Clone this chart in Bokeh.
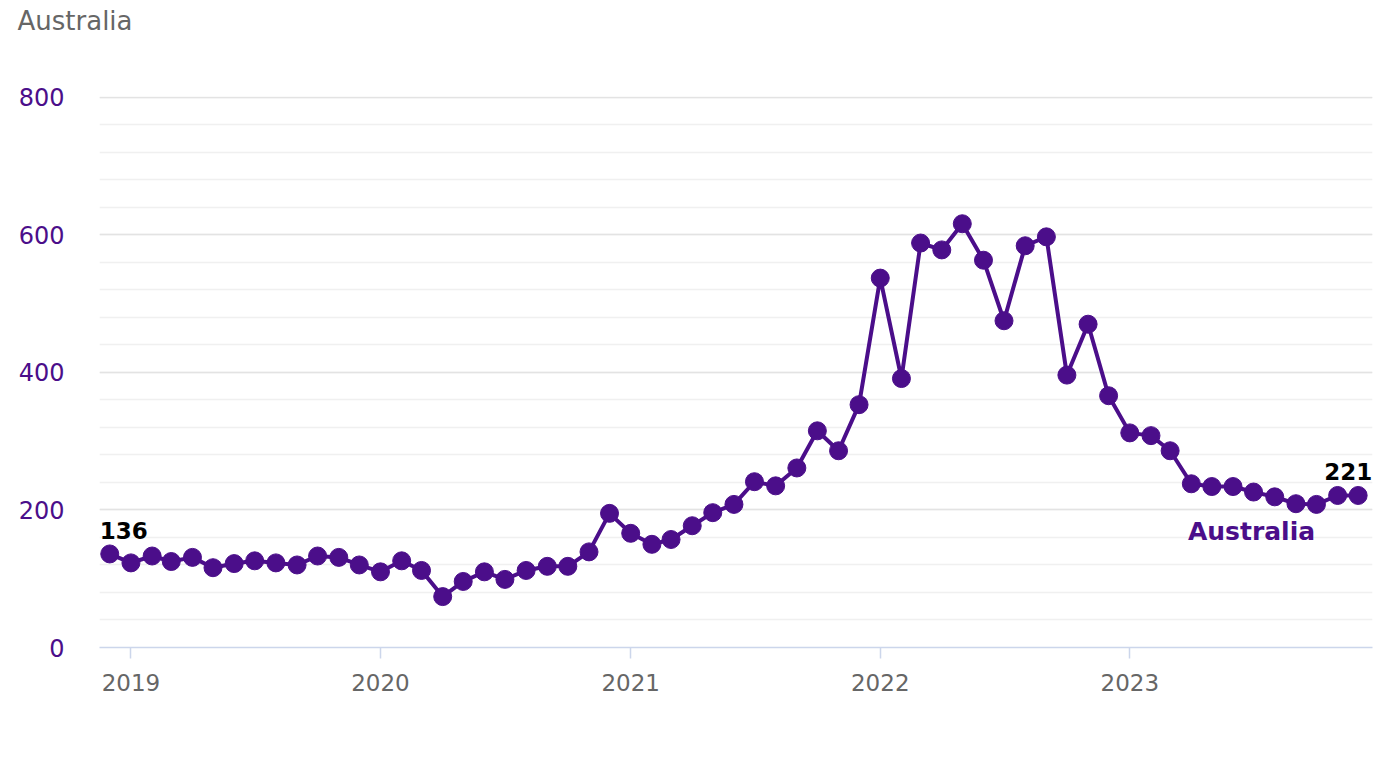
import pandas as pd
from bokeh.plotting import figure
from bokeh.models import (ColumnDataSource, FixedTicker, SingleIntervalTicker, DatetimeTickFormatter,
                          Legend, LegendItem, Range1d, LabelSet, Title)
from bokeh.core.properties import value
from bokeh.embed import file_html
from bokeh.resources import INLINE

series_name = "Australia"
months = pd.date_range("2018-12-01", periods=61, freq="MS")
values = [136, 123, 133, 125, 131, 116, 122, 126, 123, 120, 133, 131,
          120, 110, 126, 112, 74, 96, 110, 99, 112, 118, 118, 139,
          195, 166, 150, 157, 177, 196, 208, 241, 235, 261, 315, 286,
          353, 537, 391, 588, 578, 616, 563, 475, 584, 597, 396, 470,
          366, 312, 308, 286, 238, 234, 234, 226, 219, 209, 208, 221,
          221]
year_ticks = ["2019-01-01", "2020-01-01", "2021-01-01", "2022-01-01", "2023-01-01"]

PURPLE = "#4b0e8a"
FONT = "DejaVu Sans"

src = ColumnDataSource(dict(x=months, y=values))

p = figure(frame_width=1273, frame_height=551, x_axis_type="datetime", title=None,
           output_backend="svg", toolbar_location=None,
           x_range=Range1d(pd.Timestamp("2018-11-16"), pd.Timestamp("2023-12-22")),
           y_range=Range1d(0, 801))
p.min_border_left = 99
p.min_border_right = 6
p.min_border_top = 96
p.min_border_bottom = 20
p.outline_line_color = None

# spacer between frame and title, then the title itself (outermost)
p.add_layout(Title(text=" ", text_font_size="10px", standoff=48), "above")
p.add_layout(Title(text=series_name, text_font=FONT, text_font_size="26px",
                   text_font_style="normal", text_color="#666666", align="left",
                   offset=-82, standoff=0), "above")

r = p.line("x", "y", source=src, line_color=PURPLE, line_width=4)
c = p.scatter("x", "y", source=src, size=18, fill_color=PURPLE, line_color=PURPLE)

# y axis
p.yaxis.ticker = SingleIntervalTicker(interval=200, num_minor_ticks=5)
p.yaxis.axis_line_color = None
p.yaxis.major_tick_line_color = None
p.yaxis.minor_tick_line_color = None
p.yaxis.major_label_text_color = PURPLE
p.yaxis.major_label_text_font = FONT
p.yaxis.major_label_text_font_size = "24px"
p.yaxis.major_label_standoff = 29
p.ygrid.grid_line_color = "#e3e3e3"
p.ygrid.grid_line_width = 1.5
p.ygrid.minor_grid_line_color = "#f0f0f0"
p.ygrid.minor_grid_line_width = 1.5
p.xgrid.grid_line_color = None

# x axis
p.xaxis.ticker = FixedTicker(ticks=[pd.Timestamp(t).value // 10**6 for t in year_ticks])
fmt = "%Y"
p.xaxis.formatter = DatetimeTickFormatter(years=fmt, months=fmt, days=fmt, hours=fmt,
                                          minutes=fmt, seconds=fmt, milliseconds=fmt,
                                          microseconds=fmt, hourmin=fmt, minsec=fmt)
p.xaxis.axis_line_color = "#ccd6eb"
p.xaxis.axis_line_width = 1.5
p.xaxis.major_tick_line_color = "#ccd6eb"
p.xaxis.major_tick_line_width = 1.5
p.xaxis.major_tick_in = 0
p.xaxis.major_tick_out = 11
p.xaxis.minor_tick_line_color = None
p.xaxis.major_label_text_color = "#666666"
p.xaxis.major_label_text_font = FONT
p.xaxis.major_label_text_font_size = "23px"
p.xaxis.major_label_standoff = 15

# data labels for first and last points
end_src = ColumnDataSource(dict(x=[months[0], months[-1]], y=[values[0], values[-1]],
                                t=[str(values[0]), str(values[-1])], dx=[14, -10]))
p.add_layout(LabelSet(x="x", y="y", text="t", source=end_src, text_font=value(FONT),
                      text_font_size="23px", text_font_style="bold", text_color="#000000",
                      text_align="center", text_baseline="bottom", x_offset="dx", y_offset=15))

# series label
lab_src = ColumnDataSource(dict(x=[months[55]], y=[values[55]], t=[series_name]))
p.add_layout(LabelSet(x="x", y="y", text="t", source=lab_src, text_font=value(FONT),
                      text_font_size="25px", text_font_style="bold", text_color=PURPLE,
                      text_align="center", text_baseline="middle", x_offset=-2, y_offset=-39))

legend = Legend(items=[LegendItem(label=series_name, renderers=[r, c])],
                orientation="horizontal", location="top_center")
legend.label_text_font = FONT
legend.label_text_font_size = "25px"
legend.label_text_font_style = "bold"
legend.label_text_color = "#333333"
legend.border_line_color = None
legend.background_fill_alpha = 0
legend.glyph_width = 40
legend.glyph_height = 36
legend.margin = 18
legend.padding = 0
legend.label_standoff = 8
p.add_layout(legend, "below")

open("out.html", "w").write(file_html(p, INLINE))
